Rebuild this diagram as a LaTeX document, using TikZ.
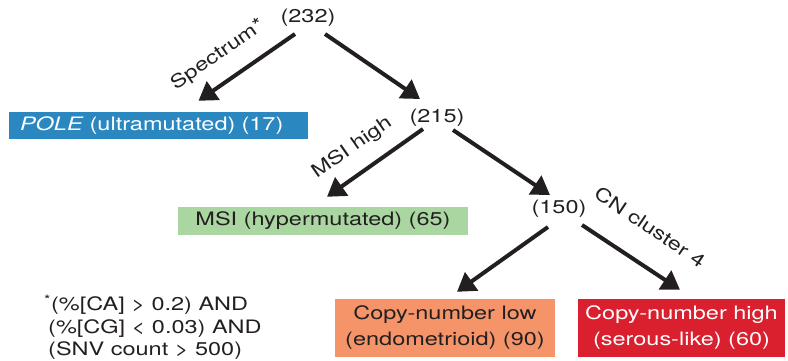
\documentclass[tikz,border=0pt]{standalone}
\usepackage{fontspec}
\setmainfont[FakeStretch=1.27]{TeX Gyre Heros}
\usetikzlibrary{arrows.meta}

\definecolor{ink}{RGB}{35,31,32}
\definecolor{poleblue}{RGB}{43,135,192}
\definecolor{msigreen}{RGB}{169,214,161}
\definecolor{cnlow}{RGB}{245,148,104}
\definecolor{cnhigh}{RGB}{218,31,46}

\begin{document}
\begin{tikzpicture}[
        x=1pt, y=-1pt,
        font=\fontsize{18.5}{26}\selectfont,
        count/.style={inner sep=0pt, text=ink},
        leaf/.style={inner sep=0pt, text=ink, align=center},
        lbl/.style={inner sep=0pt, text=ink},
        arr/.style={draw=ink, line width=4pt,
        -{Triangle[length=18pt,width=22pt]}},
        ]

        \useasboundingbox (0,0) rectangle (788,361);

        % counts
        \node (n232) [count] at (308,18) {(232)};
        \node (n215) [count] at (437,118) {(215)};
        \node (n150) [count] at (559,209) {(150)};

        % subtypes
        \node (pole) [leaf, fill=poleblue, text=white, align=left,
              minimum width=299pt, minimum height=27pt, text width=277pt]
              at (158.5,125.5) {\textit{POLE} (ultramutated) (17)};
        \node (msi) [leaf, fill=msigreen,
              minimum width=290pt, minimum height=28pt]
              at (323,221) {MSI (hypermutated) (65)};
        \node (low) [leaf, fill=cnlow,
              minimum width=220pt, minimum height=58pt]
              at (445,328) {Copy-number low\\(endometrioid) (90)};
        \node (high) [leaf, fill=cnhigh, text=white,
              minimum width=207pt, minimum height=58pt]
              at (681.5,328) {Copy-number high\\(serous-like) (60)};

        % split criteria
        \node (spec) [lbl, rotate=35] at (218,55) {Spectrum*};
        \node (msihigh) [lbl, rotate=35] at (352,148) {MSI high};
        \node (cn) [lbl, rotate=-34] at (650,227) {CN cluster 4};

        \node (note) [anchor=north west, align=left, text=ink, inner sep=0pt,
              font=\fontsize{18.5}{22.5}\selectfont] at (44,295)
              {\textsuperscript{*}(\%[CA] > 0.2) AND\\
               \hspace*{4pt}(\%[CG] < 0.03) AND\\
               \hspace*{4pt}(SNV count > 500)};

        \draw[arr] ([xshift=-13pt,yshift=-16pt]n232.center) -- ([xshift=40pt,yshift=11pt]pole.north);
        \draw[arr] ([xshift=17pt,yshift=-16pt]n232.center) -- ([xshift=-17pt,yshift=19pt]n215.center);
        \draw[arr] ([xshift=-14pt,yshift=-11pt]n215.center) -- ([xshift=4pt,yshift=10pt]msi.north);
        \draw[arr] ([xshift=16pt,yshift=-12pt]n215.center) -- ([xshift=-9pt,yshift=14pt]n150.center);
        \draw[arr] ([xshift=-11pt,yshift=-18pt]n150.center) -- ([xshift=12pt,yshift=7pt]low.north);
        \draw[arr] ([xshift=23pt,yshift=-16pt]n150.center) -- ([xshift=-1.5pt,yshift=9pt]high.north);
\end{tikzpicture}
\end{document}
